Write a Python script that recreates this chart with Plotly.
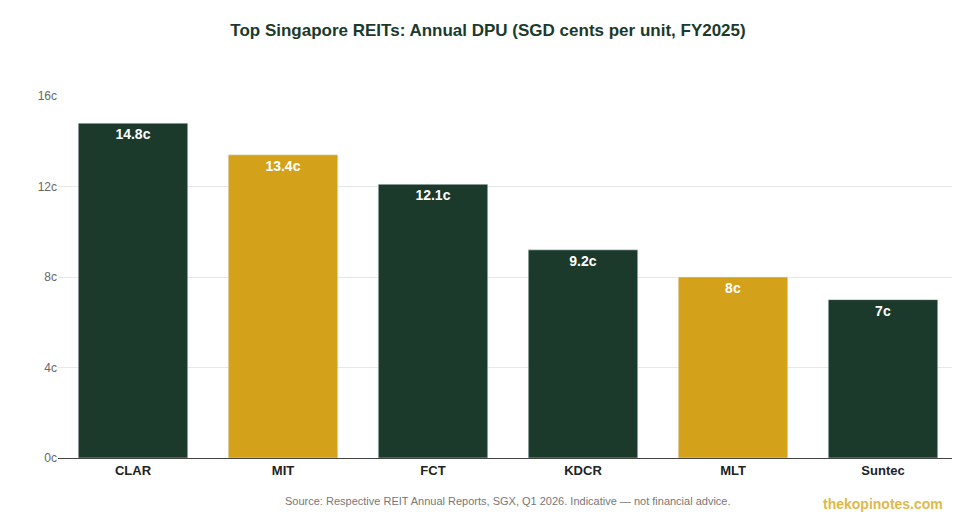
import plotly.graph_objects as go

reits = ['CLAR', 'MIT', 'FCT', 'KDCR', 'MLT', 'Suntec']
dpu = [14.8, 13.4, 12.1, 9.2, 8.0, 7.0]
labels = ['14.8c', '13.4c', '12.1c', '9.2c', '8c', '7c']
tick_vals = [0, 4, 8, 12, 16]
tick_text = ['0c', '4c', '8c', '12c', '16c']

green = '#1b3a2b'
gold = '#d4a11a'
colors = [green, gold, green, green, gold, green]

fig = go.Figure()
fig.add_trace(go.Bar(x=reits, y=dpu, marker_color=colors, text=labels,
                     textposition='inside', insidetextanchor='end',
                     textfont=dict(color='white', size=14, family='Liberation Sans'),
                     texttemplate='<br><b>%{text}</b>', hoverinfo='skip'))

fig.update_layout(
    width=960, height=520,
    title=dict(text='<b>Top Singapore REITs: Annual DPU (SGD cents per unit, FY2025)</b>',
               x=0.5, y=0.97, yanchor='top',
               font=dict(size=17, color=green, family='Liberation Sans')),
    plot_bgcolor='white', paper_bgcolor='white',
    margin=dict(l=50, r=10, t=88, b=70),
    bargap=0.27, showlegend=False,
    font=dict(family='Liberation Sans'),
)
fig.update_xaxes(tickfont=dict(size=13, color='#222'), tickprefix='<b>', ticksuffix='</b>',
                 showline=True, linecolor='#444', linewidth=1)
fig.update_yaxes(range=[0, 16], tickvals=tick_vals, ticktext=tick_text,
                 tickfont=dict(size=12, color='#666'), gridcolor='#e8e8e8', zeroline=False)

fig.add_annotation(text='Source: Respective REIT Annual Reports, SGX, Q1 2026. Indicative — not financial advice.',
                   xref='paper', yref='paper', x=0.5, y=-0.14, showarrow=False,
                   font=dict(size=11, color='#777'))
fig.add_annotation(text='<b>thekopinotes.com</b>', xref='paper', yref='paper', x=0.985, y=-0.155,
                   xanchor='right', showarrow=False, font=dict(size=14, color='#e0b84a'))

fig.write_html('out.html')
